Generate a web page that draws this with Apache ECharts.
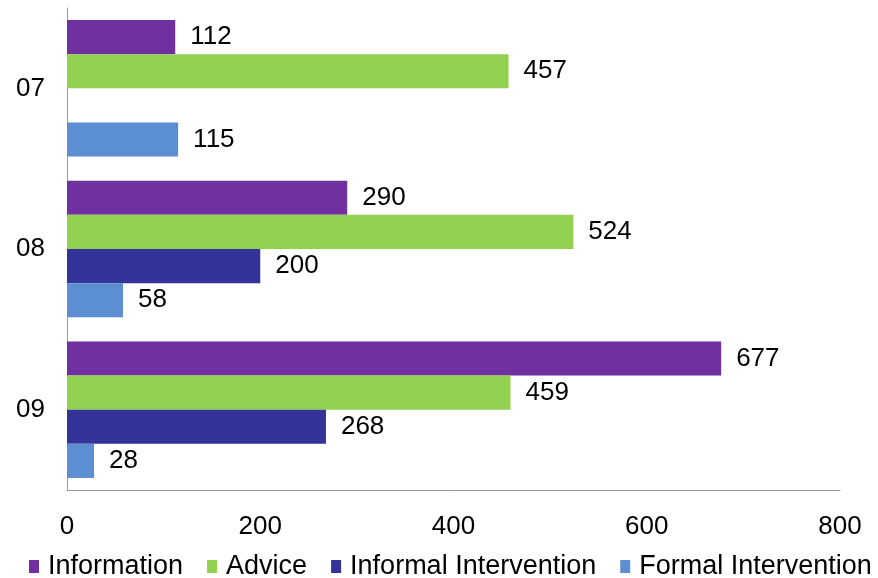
<!DOCTYPE html>
<html>
<head>
<meta charset="utf-8">
<script src="https://cdn.jsdelivr.net/npm/echarts@6/dist/echarts.min.js"></script>
<style>
  html, body { margin: 0; padding: 0; background: #fff; }
  #chart { width: 878px; height: 578px; }
</style>
</head>
<body>
<div id="chart"></div>
<script>
// years and series values
const years = ['07', '08', '09'];
const information = [112, 290, 677];
const advice = [457, 524, 459];
const informal = ['-', 200, 268];
const formal = [115, 58, 28];
const xTicks = [0, 200, 400, 600, 800];

const font = '"Liberation Sans", Arial, sans-serif';

function barSeries(name, data, color) {
  return {
    name, type: 'bar', data,
    barGap: '0%', barCategoryGap: '15%',
    itemStyle: { color },
    label: {
      show: true, position: 'right', distance: 15,
      color: '#000', fontSize: 26, fontFamily: font
    }
  };
}

const chart = echarts.init(document.getElementById('chart'));
chart.setOption({
  animation: false,
  // title sits mostly above the canvas, only its lower edge shows
  title: {
    text: 'Cases of Contact', left: 300, top: -38,
    textStyle: { fontSize: 43, fontWeight: 'normal', color: '#000', fontFamily: font }
  },
  grid: { left: 67, right: 38, top: 8, bottom: 88 },
  legend: {
    bottom: -7, left: 24, itemWidth: 10, itemHeight: 13, itemGap: 24,
    icon: 'rect',
    textStyle: { fontSize: 27, color: '#000', fontFamily: font, padding: [0, 0, 0, 4] }
  },
  xAxis: {
    type: 'value', min: 0, max: 800, interval: 200,
    splitLine: { show: false },
    axisLine: { show: true, lineStyle: { color: '#999' } },
    axisTick: { show: false },
    axisLabel: {
      margin: 24, color: '#000', fontSize: 26, fontFamily: font,
      formatter: v => xTicks.includes(v) ? String(v) : ''
    }
  },
  yAxis: {
    type: 'category', data: years, inverse: true,
    axisLine: { show: true, lineStyle: { color: '#999' } },
    axisTick: { show: false },
    axisLabel: { margin: 22, color: '#000', fontSize: 26, fontFamily: font }
  },
  series: [
    barSeries('Information', information, '#7030A0'),
    barSeries('Advice', advice, '#92D050'),
    barSeries('Informal Intervention', informal, '#333399'),
    barSeries('Formal Intervention', formal, '#5B8FD2')
  ]
});
</script>
</body>
</html>
